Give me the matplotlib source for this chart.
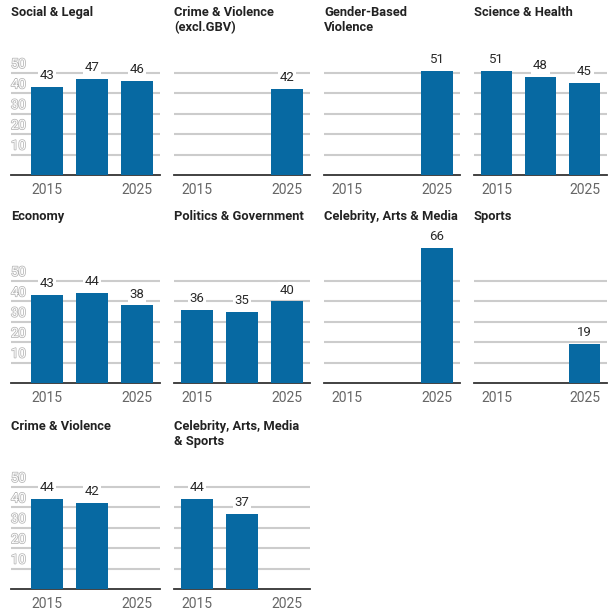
import matplotlib.pyplot as plt
import matplotlib.patheffects as pe
import matplotlib.transforms as mtransforms

plt.rcParams['font.family'] = ['Roboto', 'DejaVu Sans']

years = ['2015', '2020', '2025']

social_legal = [43, 47, 46]
crime_excl_gbv = [None, None, 42]
gbv = [None, None, 51]
science_health = [51, 48, 45]
economy = [43, 44, 38]
politics = [36, 35, 40]
celebrity_media = [None, None, 66]
sports = [None, None, 19]
crime_violence = [44, 42, None]
celebrity_sports = [44, 37, None]

titles = [
    ['Social & Legal', 'Crime & Violence\n(excl.GBV)', 'Gender-Based\nViolence', 'Science & Health'],
    ['Economy', 'Politics & Government', 'Celebrity, Arts & Media', 'Sports'],
    ['Crime & Violence', 'Celebrity, Arts, Media\n& Sports'],
]
series = [
    [social_legal, crime_excl_gbv, gbv, science_health],
    [economy, politics, celebrity_media, sports],
    [crime_violence, celebrity_sports],
]

W, H = 611, 610
fig = plt.figure(figsize=(W / 100, H / 100), dpi=100)

bar_color = '#0769a2'
col_left = [11, 174, 324, 474]
col_right = [160, 310, 460, 607]
baselines = [175, 383, 589]
title_tops = [6, 210, 420]
px_per_unit = 102 / 50
ytop = 75

for r in range(3):
    for c in range(len(series[r])):
        vals = series[r][c]
        left, right = col_left[c], col_right[c]
        h = ytop * px_per_unit
        ax = fig.add_axes([left / W, (H - baselines[r]) / H, (right - left) / W, h / H])
        xs = [i for i, v in enumerate(vals) if v is not None]
        vs = [v for v in vals if v is not None]
        ax.bar(xs, vs, width=0.71, color=bar_color, zorder=3)
        for x, v in zip(xs, vs):
            ax.annotate(str(v), (x, v), xytext=(0, 3.5), textcoords='offset points',
                        ha='center', va='bottom', fontsize=9.5, color='#2a2a2a', zorder=4,
                        bbox=dict(boxstyle='square,pad=0.15', fc='white', ec='none'))
        # bar centres sit 23px in from the edges; first column has room for the y labels
        lpad = (47 - 11) / 45 if c == 0 else 23 / 45
        ax.set_xlim(-lpad, 2 + 23 / 45)
        ax.set_ylim(0, ytop)
        ax.set_yticks([10, 20, 30, 40, 50])
        ax.set_yticklabels([])
        ax.yaxis.grid(True, color='#cccccc', lw=1.5, zorder=0)
        ax.set_xticks([0, 2])
        ax.set_xticklabels([years[0], years[2]], color='#666666', fontsize=10)
        ax.tick_params(length=0, pad=6)
        for s in ['left', 'right', 'top']:
            ax.spines[s].set_visible(False)
        ax.spines['bottom'].set_color('#333333')
        ax.spines['bottom'].set_linewidth(1.3)
        ax.set_facecolor('none')
        if c == 0:
            tr = mtransforms.blended_transform_factory(ax.transAxes, ax.transData)
            for t in [10, 20, 30, 40, 50]:
                ax.text(0, t + 1, str(t), transform=tr, ha='left', va='bottom',
                        fontsize=9.5, color='white', zorder=5,
                        path_effects=[pe.withStroke(linewidth=1.1, foreground='#b5b5b5')])
        fig.text(left / W, 1 - title_tops[r] / H, titles[r][c], ha='left', va='top',
                 fontsize=9.3, fontweight='bold', color='#222222', linespacing=1.2)

fig.savefig('out.png', dpi=100, facecolor='white')
